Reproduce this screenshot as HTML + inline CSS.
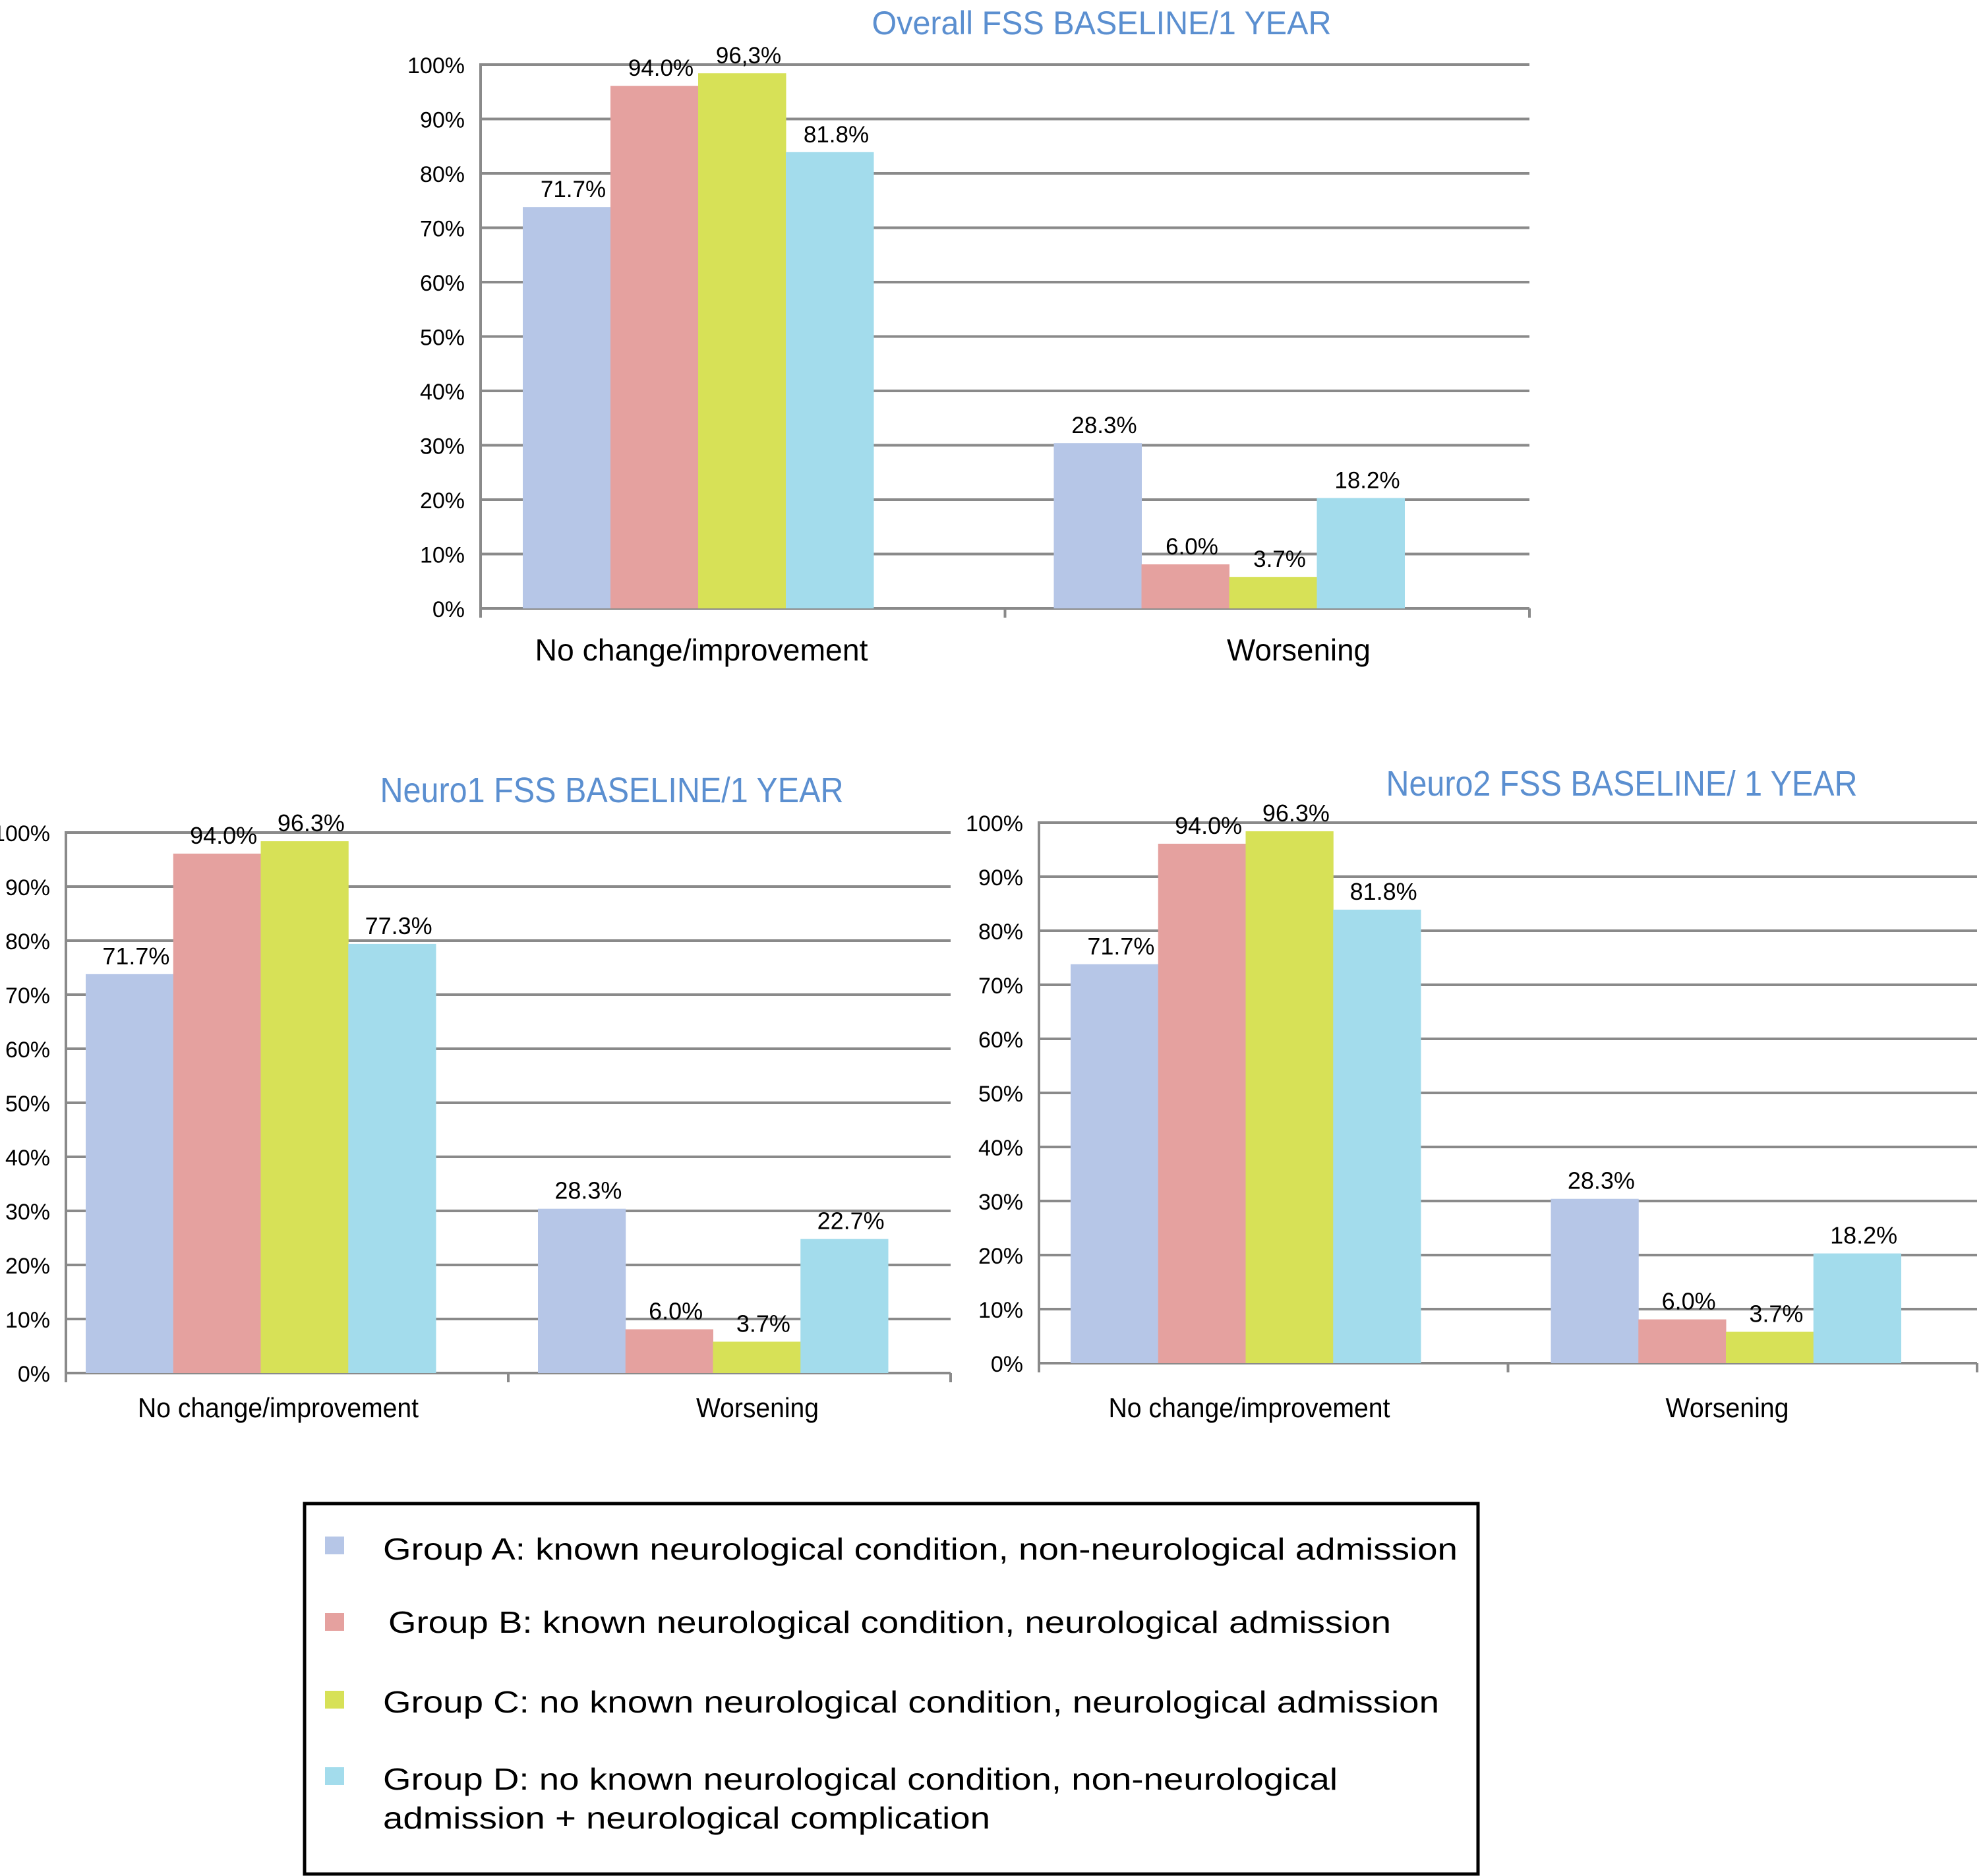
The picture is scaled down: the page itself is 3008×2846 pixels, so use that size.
<!DOCTYPE html>
<html><head><meta charset="utf-8"><style>
html,body{margin:0;padding:0;background:#fff}
svg{display:block;font-family:"Liberation Sans",Arial,sans-serif}
</style></head><body>
<svg id="root" width="3008" height="2846" viewBox="0 0 3008 2846" xmlns="http://www.w3.org/2000/svg">
<rect width="3008" height="2846" fill="#fff"/>
<g id="charts"></g>
<g>
<rect x="462" y="2281" width="1780" height="562" fill="#fff" stroke="#000" stroke-width="5"/>
<rect x="493" y="2331" width="29" height="27" fill="#b6c6e7"/>
<text x="581" y="2366" font-size="46" textLength="1630" lengthAdjust="spacingAndGlyphs" fill="#000">Group A: known neurological condition, non-neurological admission</text>
<rect x="493" y="2447" width="29" height="27" fill="#e5a19f"/>
<text x="589" y="2477" font-size="46" textLength="1521" lengthAdjust="spacingAndGlyphs" fill="#000">Group B: known neurological condition, neurological admission</text>
<rect x="493" y="2565" width="29" height="27" fill="#d7e157"/>
<text x="581" y="2598" font-size="46" textLength="1602" lengthAdjust="spacingAndGlyphs" fill="#000">Group C: no known neurological condition, neurological admission</text>
<rect x="493" y="2681" width="29" height="27" fill="#a3dcec"/>
<text x="581" y="2715" font-size="46" textLength="1448" lengthAdjust="spacingAndGlyphs" fill="#000">Group D: no known neurological condition, non-neurological</text>
<text x="581" y="2774" font-size="46" textLength="921" lengthAdjust="spacingAndGlyphs" fill="#000">admission + neurological complication</text>
</g>
</svg>
<script>
const categories = ["No change/improvement", "Worsening"];
const groups = ["Group A", "Group B", "Group C", "Group D"];
const overallValues = [[71.7, 94.0, 96.3, 81.8], [28.3, 6.0, 3.7, 18.2]];
const overallLabels = [["71.7%", "94.0%", "96,3%", "81.8%"], ["28.3%", "6.0%", "3.7%", "18.2%"]];
const neuro1Values = [[71.7, 94.0, 96.3, 77.3], [28.3, 6.0, 3.7, 22.7]];
const neuro1Labels = [["71.7%", "94.0%", "96.3%", "77.3%"], ["28.3%", "6.0%", "3.7%", "22.7%"]];
const neuro2Values = [[71.7, 94.0, 96.3, 81.8], [28.3, 6.0, 3.7, 18.2]];
const neuro2Labels = [["71.7%", "94.0%", "96.3%", "81.8%"], ["28.3%", "6.0%", "3.7%", "18.2%"]];
const yTicks = [0, 10, 20, 30, 40, 50, 60, 70, 80, 90, 100];
const yTickLabels = ["0%", "10%", "20%", "30%", "40%", "50%", "60%", "70%", "80%", "90%", "100%"];

const colors = ["#b6c6e7", "#e5a19f", "#d7e157", "#a3dcec"];
const NS = "http://www.w3.org/2000/svg";
const BAR_OFFSET = 2.1;

function mk(tag, attrs, parent) {
  const e = document.createElementNS(NS, tag);
  for (const k in attrs) e.setAttribute(k, attrs[k]);
  parent.appendChild(e);
  return e;
}

function drawChart(cfg, values, labels) {
  const root = document.getElementById('charts');
  const g = mk('g', {}, root);
  
  
  const y = v => cfg.y0 - (v / 100) * (cfg.y0 - cfg.y100);
  const catW = (cfg.right - cfg.left) / categories.length;
  yTicks.forEach((t, i) => {
    if (t > 0) {
      const l = mk('line', {x1: cfg.left, x2: cfg.right, y1: y(t), y2: y(t), stroke: '#8a8a8a', 'stroke-width': 4}, g);
      
      
    }
    const tx = mk('text', {x: cfg.left - 24, y: y(t) + 13, 'font-size': cfg.tickFont, 'text-anchor': 'end', fill: '#000'}, g);
    
    
    tx.textContent = yTickLabels[i];
  });
  const ya = mk('line', {x1: cfg.left, x2: cfg.left, y1: y(100) - 2, y2: cfg.y0 + 14, stroke: '#8a8a8a', 'stroke-width': 4}, g);
  
  
  const xa = mk('line', {x1: cfg.left, x2: cfg.right, y1: cfg.y0, y2: cfg.y0, stroke: '#8a8a8a', 'stroke-width': 4}, g);
  
  
  for (let c = 0; c <= categories.length; c++) {
    const tk = mk('line', {x1: cfg.left + c * catW, x2: cfg.left + c * catW, y1: cfg.y0, y2: cfg.y0 + 14, stroke: '#8a8a8a', 'stroke-width': 4}, g);
    
    
  }
  const bw = cfg.groupW / groups.length;
  categories.forEach((cat, c) => {
    const start = cfg.left + c * catW + cfg.groupOff + (c > 0 ? cfg.extra2 : 0);
    values[c].forEach((v, s) => {
      const x = start + s * bw;
      const top = y(v + BAR_OFFSET);
      const r = mk('rect', {x: x, y: top, width: bw + 0.5, height: cfg.y0 - top, fill: colors[s]}, g);
      
      
      const lt = mk('text', {x: x + bw / 2 + 10, y: top - 15, 'font-size': cfg.valFont, 'text-anchor': 'middle', fill: '#000'}, g);
      
      
      lt.textContent = labels[c][s];
    });
    const ct = mk('text', {x: cfg.catX[c], y: cfg.catY, 'font-size': cfg.catFont, 'text-anchor': 'middle', fill: '#000', textLength: cfg.catW[c], lengthAdjust: 'spacingAndGlyphs'}, g);
    
    
    ct.textContent = cat;
  });
  const tt = mk('text', {x: cfg.titleX, y: cfg.titleY, 'font-size': cfg.titleFont, 'text-anchor': 'middle', fill: '#5b8fd0', textLength: cfg.titleW, lengthAdjust: 'spacingAndGlyphs'}, g);
  
  
  tt.textContent = cfg.title;
}

drawChart({name: 'overall-chart', title: 'Overall FSS BASELINE/1 YEAR', left: 729, right: 2320, y100: 98, y0: 923,
  groupOff: 64, extra2: 10, groupW: 532, catW: [505, 218], catX: [1064, 1970],
  titleX: 1671, titleY: 52, titleW: 697, titleFont: 50, tickFont: 34, valFont: 35, catFont: 46, catY: 1002}, overallValues, overallLabels);
drawChart({name: 'neuro1-chart', title: 'Neuro1 FSS BASELINE/1 YEAR', left: 100, right: 1442, y100: 1263, y0: 2083,
  groupOff: 30, extra2: 15, groupW: 531, catW: [426, 186], catX: [422, 1149],
  titleX: 928, titleY: 1217, titleW: 703, titleFont: 54, tickFont: 34, valFont: 36, catFont: 42, catY: 2150}, neuro1Values, neuro1Labels);
drawChart({name: 'neuro2-chart', title: 'Neuro2 FSS BASELINE/ 1 YEAR', left: 1576, right: 2999, y100: 1248, y0: 2068,
  groupOff: 48, extra2: 17, groupW: 531, catW: [427, 187], catX: [1895, 2620],
  titleX: 2460, titleY: 1207, titleW: 715, titleFont: 54, tickFont: 34, valFont: 36, catFont: 42, catY: 2150}, neuro2Values, neuro2Labels);
</script>
</body></html>
